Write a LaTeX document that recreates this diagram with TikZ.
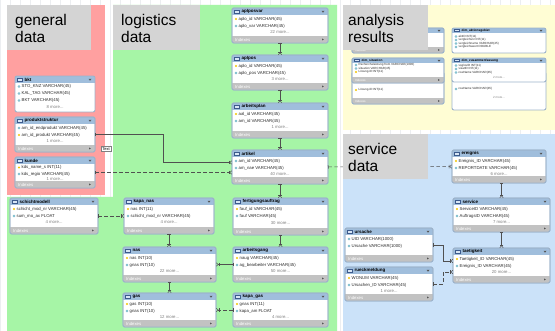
\documentclass[tikz,border=0pt]{standalone}
\usepackage{fontspec}
\setmainfont{Liberation Sans}
\usetikzlibrary{arrows.meta,calc}
\definecolor{zonered}{HTML}{FFA0A0}
\definecolor{zonegreen}{HTML}{A6F5A6}
\definecolor{zoneyellow}{HTML}{FFFDD4}
\definecolor{zoneblue}{HTML}{CBE2F9}
\definecolor{labelgray}{HTML}{D4D4D4}
\definecolor{gridgray}{HTML}{ECEEF1}
\definecolor{hdrblue}{HTML}{A0BEDC}
\definecolor{iconblue}{HTML}{D8E6F5}
\definecolor{iconedge}{HTML}{3C5A8C}
\definecolor{footgray}{HTML}{C2C2C2}
\definecolor{tbledge}{HTML}{9DB3CB}
\definecolor{rowink}{HTML}{2A2A2A}
\definecolor{moreink}{HTML}{808080}
\definecolor{keyyellow}{HTML}{F2C500}
\definecolor{colcyan}{HTML}{6FB6C8}
\definecolor{relgray}{HTML}{505050}
\definecolor{arrowgray}{HTML}{555555}
\newcommand{\erhdr}{7.5}
\newcommand{\erfh}{7}
\newcommand{\errowfont}{\fontsize{4.3}{5}\selectfont}
\newcommand{\erhdrfont}{\fontsize{4.5}{5}\selectfont\bfseries}
\tikzset{
  zonetext/.style={font=\fontsize{15.5}{17}\selectfont,anchor=base west,inner sep=0pt},
  tblframe/.style={fill=white,inner sep=0pt,outer sep=0pt},
  tbledge/.style={draw=tbledge,line width=.9pt},
  hdrtext/.style={font=\erhdrfont,anchor=west,inner sep=0pt,text=black},
  rowtext/.style={font=\errowfont,anchor=west,inner sep=0pt,text=rowink},
  moretext/.style={font=\errowfont,inner sep=0pt,text=moreink},
  foottext/.style={font=\errowfont,anchor=west,inner sep=0pt,text=white},
  colicon/.style={draw=colcyan,line width=.4pt},
  tooltip/.style={draw=gray,fill=white,font=\fontsize{4}{5}\selectfont,inner sep=1.2pt},
  erline/.style={draw=relgray,line width=.5pt,
    {Bar[width=3.5pt]}-{Bar[width=3.5pt] Straight Barb[reversed,width=3.5pt,length=2pt]}},
  erdash/.style={erline,dash pattern=on 3.5pt off 2.5pt},
}
% table frame with header bar: name, x, y, width, height, title
\newcommand{\ertable}[6]{%
  \node[tblframe,minimum width=#4pt,minimum height=#5pt,anchor=north west] (#1) at (#2,#3) {};
  \begin{scope}
    \clip[rounded corners=2pt] (#1.north west) rectangle (#1.south east);
    \fill[hdrblue] (#1.north west) rectangle ($(#1.north east)+(0,\erhdr)$);
  \end{scope}
  \filldraw[fill=iconblue,draw=iconedge,line width=.3pt]
    ($(#1.north west)+(2.5,0.3*\erhdr)$) rectangle ($(#1.north west)+(7.5,0.7*\erhdr)$);
  \node[hdrtext] at ($(#1.north west)+(9.5,0.5*\erhdr)$) {#6};
  \fill[arrowgray] ($(#1.north east)+(-6.5,0.38*\erhdr)$) -- ++(3,0) -- ++(-1.5,1.8) -- cycle;
  \draw[tbledge,rounded corners=2pt] (#1.north west) rectangle (#1.south east);
}
% gray "Indexes" bar at the bottom
\newcommand{\erfoot}[1]{%
  \begin{scope}
    \clip[rounded corners=2pt] (#1.north west) rectangle (#1.south east);
    \fill[footgray] ($(#1.south west)+(0,-\erfh)$) rectangle (#1.south east);
  \end{scope}
  \node[foottext] at ($(#1.south west)+(3,-0.5*\erfh)$) {Indexes};
  \fill[arrowgray] ($(#1.south east)+(-6,-0.5*\erfh-1)$) -- ++(0,2) -- ++(1.8,-1) -- cycle;
  \draw[tbledge,rounded corners=2pt] (#1.north west) rectangle (#1.south east);
}
\newcommand{\erkey}[3]{%
  \fill[keyyellow] ($(#1.north west)+(4,#2)$) circle (1.1);
  \node[rowtext] at ($(#1.north west)+(6.5,#2)$) {#3};}
\newcommand{\ercol}[3]{%
  \draw[colicon] ($(#1.north west)+(4,#2)$) circle (1);
  \node[rowtext] at ($(#1.north west)+(6.5,#2)$) {#3};}
\newcommand{\ermore}[3]{\node[moretext] at ($(#1.north)+(0,#2)$) {#3};}

\begin{document}
\begin{tikzpicture}[x=1pt,y=-1pt]
  \useasboundingbox (0,0) rectangle (555,331);
  \fill[white] (0,0) rectangle (555,331);
  \draw[gridgray,line width=.3pt] (0,0) grid[step=10] (555,331);

  % zones
  \fill[zonered] (7,5) rectangle (105,195);
  \fill[zonegreen] (113,5) -- (337,5) -- (337,331) -- (7,331) -- (7,197) -- (113,197) -- cycle;
  \fill[zoneyellow] (343,5) rectangle (555,130);
  \fill[zoneblue] (343,134) rectangle (555,331);

  % analysis results tables
  \begin{scope}
    \renewcommand{\erhdr}{5}
    \renewcommand{\erfh}{6}
    \renewcommand{\errowfont}{\fontsize{3}{3.5}\selectfont}
    \renewcommand{\erhdrfont}{\fontsize{3.2}{3.5}\selectfont\bfseries}
    \ertable{dimtop}{352}{28}{92}{25}{}
    \erfoot{dimtop}
    \ertable{dimloesung}{352}{72}{92}{32}{}
    \erkey{dimloesung}{18}{Lösung-ID INT(11)}
    \erfoot{dimloesung}
    \ertable{dimsituation}{352}{58}{92}{25}{dim\_situation}
    \ercol{dimsituation}{7}{Rechercheleistung from VARCHAR(1000)}
    \ercol{dimsituation}{10.5}{situation VARCHAR(45)}
    \erkey{dimsituation}{14}{Lösung-ID INT(11)}
    \erfoot{dimsituation}
    \ertable{dimaktion}{452}{28}{94}{25}{dim\_aktionsgebiet}
    \ercol{dimaktion}{8.5}{aktID INT(11)}
    \ercol{dimaktion}{12}{vergleichsnr INT(11)}
    \ercol{dimaktion}{15.5}{vergleichname VARCHAR(45)}
    \ercol{dimaktion}{19}{vergleichswert DOUBLE}
    \ertable{dimrow}{452}{72}{94}{38}{}
    \ercol{dimrow}{17}{rowName VARCHAR(45)}
    \ermore{dimrow}{25}{2 more...}
    \ertable{dimzusammen}{452}{58}{94}{24}{dim\_zusammenfassung}
    \ercol{dimzusammen}{7.5}{vsglosID INT(11)}
    \ercol{dimzusammen}{11}{visatID INT(11)}
    \ercol{dimzusammen}{14.5}{rowName VARCHAR(45)}
    \ermore{dimzusammen}{19}{2 more...}
  \end{scope}

  % general data tables
  \ertable{bkt}{15}{76}{80}{36}{bkt}
  \ercol{bkt}{10.5}{STO\_KNZ VARCHAR(45)}
  \ercol{bkt}{17.5}{KAL\_TAG VARCHAR(45)}
  \ercol{bkt}{24.5}{BKT VARCHAR(45)}
  \ermore{bkt}{31}{8 more...}
  \ertable{produktstruktur}{15}{117}{80}{35}{produktstruktur}
  \ercol{produktstruktur}{11}{am\_id\_endprodukt VARCHAR(45)}
  \erkey{produktstruktur}{18}{am\_id\_produkt VARCHAR(45)}
  \ermore{produktstruktur}{24}{1 more...}
  \erfoot{produktstruktur}
  \ertable{kunde}{15}{157}{80}{31}{kunde}
  \erkey{kunde}{10.5}{kds\_name\_s INT(11)}
  \ercol{kunde}{17}{kds\_regio VARCHAR(45)}
  \ermore{kunde}{22.5}{1 more...}
  \erfoot{kunde}

  % logistics data tables
  \ertable{schichtmodell}{10}{198}{88}{36}{schichtmodell}
  \erkey{schichtmodell}{11}{schicht\_mod\_nr VARCHAR(45)}
  \ercol{schichtmodell}{18}{sum\_mo\_ax FLOAT}
  \ermore{schichtmodell}{24.5}{4 more...}
  \erfoot{schichtmodell}
  \ertable{kapanas}{124}{198}{90}{36}{kapa\_nas}
  \erkey{kapanas}{11}{nas INT(11)}
  \ercol{kapanas}{18}{schicht\_mod\_nr VARCHAR(45)}
  \ermore{kapanas}{24.5}{4 more...}
  \erfoot{kapanas}
  \ertable{nas}{123}{247}{93}{35}{nas}
  \erkey{nas}{11}{nas INT(10)}
  \ercol{nas}{18}{gnas INT(10)}
  \ermore{nas}{24.5}{22 more...}
  \erfoot{nas}
  \ertable{gas}{123}{293}{93}{34}{gas}
  \erkey{gas}{11}{gas INT(10)}
  \ercol{gas}{18}{gnas INT(10)}
  \ermore{gas}{24.5}{12 more...}
  \erfoot{gas}
  \ertable{aplposvar}{232}{8}{96}{35}{aplposvar}
  \erkey{aplposvar}{11}{aplo\_id VARCHAR(45)}
  \ercol{aplposvar}{18}{aplo\_var VARCHAR(45)}
  \ermore{aplposvar}{24.5}{22 more...}
  \erfoot{aplposvar}
  \ertable{aplpos}{232}{55}{96}{35}{aplpos}
  \erkey{aplpos}{11}{aplo\_id VARCHAR(45)}
  \ercol{aplpos}{18}{aplo\_pos VARCHAR(45)}
  \ermore{aplpos}{24.5}{3 more...}
  \erfoot{aplpos}
  \ertable{arbeitsplan}{232}{103}{96}{35}{arbeitsplan}
  \erkey{arbeitsplan}{11}{aal\_id VARCHAR(45)}
  \ercol{arbeitsplan}{18}{am\_id VARCHAR(45)}
  \ermore{arbeitsplan}{24.5}{1 more...}
  \erfoot{arbeitsplan}
  \ertable{artikel}{232}{150}{96}{34}{artikel}
  \ercol{artikel}{11}{am\_id VARCHAR(45)}
  \ercol{artikel}{18}{am\_nae VARCHAR(45)}
  \ermore{artikel}{24.5}{40 more...}
  \erfoot{artikel}
  \ertable{fertigungsauftrag}{233}{198}{95}{37}{fertigungsauftrag}
  \erkey{fertigungsauftrag}{11}{fauf\_id VARCHAR(45)}
  \ercol{fertigungsauftrag}{18}{fauf VARCHAR(45)}
  \ermore{fertigungsauftrag}{25}{30 more...}
  \erfoot{fertigungsauftrag}
  \ertable{arbeitsgang}{233}{247}{95}{35}{arbeitsgang}
  \erkey{arbeitsgang}{11}{naug VARCHAR(45)}
  \ercol{arbeitsgang}{18}{ag\_bearbeiter VARCHAR(45)}
  \ermore{arbeitsgang}{24.5}{50 more...}
  \erfoot{arbeitsgang}
  \ertable{kapagas}{233}{293}{95}{34}{kapa\_gas}
  \erkey{kapagas}{11}{gnas INT(11)}
  \ercol{kapagas}{18}{kapa\_am FLOAT}
  \ermore{kapagas}{24.5}{4 more...}
  \erfoot{kapagas}

  % service data tables
  \ertable{ereignis}{452}{150}{94}{33}{ereignis}
  \erkey{ereignis}{11}{Ereignis\_ID VARCHAR(45)}
  \ercol{ereignis}{18}{REPORTDATE VARCHAR(45)}
  \ermore{ereignis}{24}{6 more...}
  \erfoot{ereignis}
  \ertable{service}{453}{198}{97}{34}{service}
  \erkey{service}{11}{ServiceID VARCHAR(45)}
  \ercol{service}{18}{AuftragsID VARCHAR(45)}
  \ermore{service}{24.5}{7 more...}
  \erfoot{service}
  \ertable{taetigkeit}{453}{248}{97}{35}{taetigkeit}
  \erkey{taetigkeit}{11}{Taetigkeit\_ID VARCHAR(45)}
  \ercol{taetigkeit}{18}{Ereignis\_ID VARCHAR(45)}
  \ermore{taetigkeit}{24.5}{20 more...}
  \erfoot{taetigkeit}
  \ertable{ursache}{345}{228}{88}{34}{ursache}
  \ercol{ursache}{11}{UID VARCHAR(1000)}
  \ercol{ursache}{18}{Ursache VARCHAR(1000)}
  \erfoot{ursache}
  \ertable{rueckmeldung}{345}{267}{88}{34}{rueckmeldung}
  \erkey{rueckmeldung}{11}{WONUM VARCHAR(45)}
  \ercol{rueckmeldung}{18}{Ursachen\_ID VARCHAR(45)}
  \ermore{rueckmeldung}{24.5}{1 more...}
  \erfoot{rueckmeldung}

  % relationships
  \draw[erline] (aplposvar.south) -- (aplpos.north);
  \draw[erline] (aplpos.south) -- (arbeitsplan.north);
  \draw[erline] (arbeitsplan.south) -- (artikel.north);
  \draw[erline] (artikel.south) -- (artikel.south |- fertigungsauftrag.north);
  \draw[erline] (fertigungsauftrag.south) -- (arbeitsgang.north);
  \draw[erline] (arbeitsgang.west) -- (nas.east);
  \draw[erdash] (kapagas.west) -- (gas.east);
  \draw[erline] (kapanas.south) -- (kapanas.south |- nas.north);
  \draw[erline] (nas.south) -- (nas.south |- gas.north);
  \draw[erdash] (schichtmodell.east) -- (kapanas.west);
  \draw[erline] (produktstruktur.east) -- ++(68,0) |- ([yshift=4.5pt]artikel.west);
  \draw[erdash] (kunde.east) -- (kunde.east -| artikel.west);
  \draw[erdash] (artikel.east) -- (ereignis.west);
  \draw[erline] (ereignis.south -| service.north) -- (service.north);
  \draw[erline] (service.south) -- (service.south |- taetigkeit.north);
  \draw[erline] (ursache.east) -- ++(10,0) |- ([yshift=4.5pt]taetigkeit.west);
  \draw[erdash] (rueckmeldung.east) -- ++(10,0) |- ([yshift=-6.5pt]taetigkeit.west);

  % zone labels
  \fill[labelgray] (7,5) rectangle (91,50);
  \node[zonetext] (generalA) at (15,26) {general};
  \node[zonetext] (generalB) at (15,43) {data};
  \fill[labelgray] (113,5) rectangle (200,50);
  \node[zonetext] (logisticsA) at (121,26) {logistics};
  \node[zonetext] (logisticsB) at (121,43) {data};
  \fill[labelgray] (343,5) rectangle (428,50);
  \node[zonetext] (analysisA) at (348,26) {analysis};
  \node[zonetext] (analysisB) at (348,43) {results};
  \fill[labelgray] (343,134) rectangle (428,179);
  \node[zonetext] (serviceA) at (348,155) {service};
  \node[zonetext] (serviceB) at (348,172) {data};

  \node[tooltip] (tip) at (106,149) {Text};
\end{tikzpicture}
\end{document}
